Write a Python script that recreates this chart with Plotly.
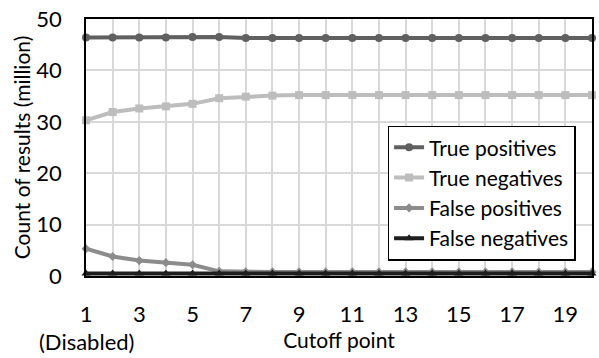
import plotly.graph_objects as go

cutoff = list(range(1, 21))
true_pos = [46.4, 46.4, 46.4, 46.4, 46.5, 46.5, 46.3, 46.3, 46.3, 46.3, 46.3, 46.3, 46.3, 46.3, 46.3, 46.3, 46.3, 46.3, 46.3, 46.3]
true_neg = [30.3, 31.9, 32.6, 33.0, 33.5, 34.6, 34.9, 35.1, 35.2, 35.2, 35.2, 35.2, 35.2, 35.2, 35.2, 35.2, 35.2, 35.2, 35.2, 35.2]
false_pos = [5.3, 3.8, 3.0, 2.6, 2.2, 0.9, 0.8, 0.8, 0.8, 0.8, 0.8, 0.8, 0.8, 0.8, 0.8, 0.8, 0.8, 0.8, 0.8, 0.8]
false_neg = [0.5] * 20
series_names = ["True positives", "True negatives", "False positives", "False negatives"]
y_ticks = [0, 10, 20, 30, 40, 50]

font = "Lato, 'Open Sans', sans-serif"

fig = go.Figure()
specs = [
    (true_pos, "#606060", "circle", 8),
    (true_neg, "#bdbdbd", "square", 8),
    (false_pos, "#8c8c8c", "diamond", 7),
    (false_neg, "#1e1e1e", "triangle-up", 8),
]
for name, (vals, col, sym, sz) in zip(series_names, specs):
    fig.add_trace(go.Scatter(
        x=cutoff, y=vals, name=name, mode="lines+markers",
        line=dict(color=col, width=4), marker=dict(symbol=sym, size=sz, color=col),
        cliponaxis=False,
    ))

fig.update_layout(
    width=599, height=358,
    margin=dict(l=86, r=5, t=14, b=82),
    paper_bgcolor="white", plot_bgcolor="white",
    font=dict(family=font, color="#000000"),
    showlegend=True,
    legend=dict(x=0.596, y=0.585, xanchor="left", yanchor="top",
                bordercolor="#000000", borderwidth=1.5, bgcolor="white",
                font=dict(size=21, family=font), tracegroupgap=0, itemwidth=30),
    xaxis=dict(range=[1, 20], tick0=1, dtick=2, showgrid=True, gridcolor="#d9d9d9", gridwidth=1.5,
               minor=dict(dtick=1, tick0=1, showgrid=True, gridcolor="#d9d9d9", gridwidth=1.5),
               showline=True, linecolor="#000000", linewidth=1.5, mirror=True,
               ticks="", tickfont=dict(size=22, family=font), ticklabelstandoff=18,
               title=dict(text="Cutoff point", font=dict(size=21, family=font), standoff=6),
               zeroline=False),
    yaxis=dict(range=[0, 50.01], tickmode="array", tickvals=y_ticks, showgrid=True, gridcolor="#d9d9d9", gridwidth=1.5,
               showline=True, linecolor="#000000", linewidth=1.5, mirror=True,
               ticks="", tickfont=dict(size=22, family=font), ticklabelstandoff=18,
               ticklabeloverflow="allow",
               title=dict(text="Count of results (million)", font=dict(size=21, family=font), standoff=0),
               zeroline=False),
)
fig.add_annotation(x=1, y=0, xref="x", yref="paper", yshift=-50, text="(Disabled)",
                   showarrow=False, font=dict(size=22, family=font), xanchor="center", yanchor="top")

fig.write_html("out.html")
